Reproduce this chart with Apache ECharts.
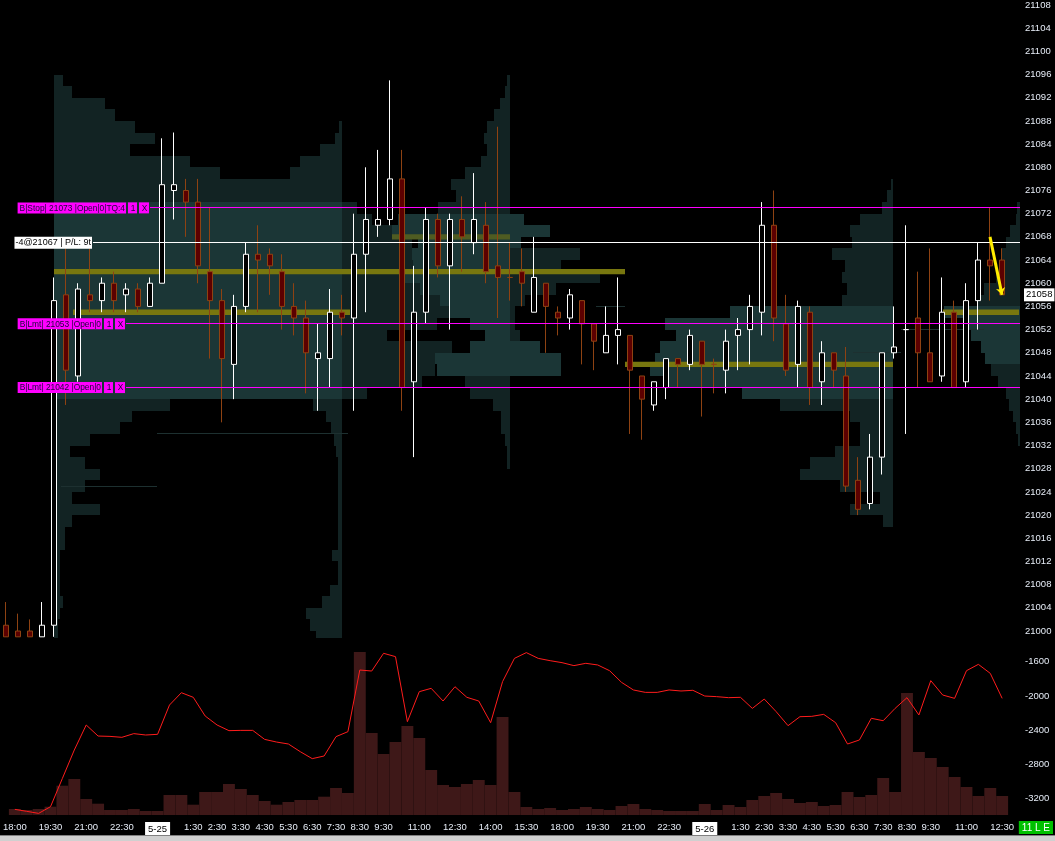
<!DOCTYPE html>
<html><head><meta charset="utf-8">
<script src="https://cdn.jsdelivr.net/npm/echarts@6/dist/echarts.min.js"></script>
<style>html,body{margin:0;padding:0;background:#000;overflow:hidden}#c{width:1055px;height:841px}</style>
</head><body><div id="c"></div>
<script>
// ---------- categories (30-minute bars) ----------
const categories = ['18:00','18:30','19:00','19:30','20:00','20:30','21:00','21:30','22:00','22:30','23:00','23:30',
 '5-25','0:30','1:00','1:30','2:00','2:30','3:00','3:30','4:00','4:30','5:00','5:30','6:00','6:30','7:00','7:30',
 '8:00','8:30','9:00','9:30','10:00','10:30','11:00','11:30','12:00','12:30','13:00','13:30','14:00','14:30','15:00','15:30','16:00','16:30',
 '18:00','18:30','19:00','19:30','20:00','20:30','21:00','21:30','22:00','22:30','23:00','23:30',
 '5-26','0:30','1:00','1:30','2:00','2:30','3:00','3:30','4:00','4:30','5:00','5:30','6:00','6:30','7:00','7:30',
 '8:00','8:30','9:00','9:30','10:00','10:30','11:00','11:30','12:00','12:30','13:00'];
const shownLabelIdx = [0,3,6,9,12,15,17,19,21,23,25,27,29,31,34,37,40,43,46,49,52,55,58,61,63,65,67,69,71,73,75,77,80,83];

// ---------- price ticks ----------
const priceTicks = [21000,21004,21008,21012,21016,21020,21024,21028,21032,21036,21040,21044,21048,21052,21056,21060,21064,21068,21072,21076,21080,21084,21088,21092,21096,21100,21104,21108];
const deltaTicks = [-3200,-2800,-2400,-2000,-1600];

// ---------- OHLC: [open, close, low, high] ----------
const ohlc = [
 [21001,20999,20999,21005],[21000,20999,20999,21003],[21000,20999,20999,21002],[20999,21001,20999,21005],
 [21001,21057,20999,21061],[21058,21045,21039,21066],[21044,21059,21043,21060],[21058,21057,21055,21066],
 [21057,21060,21055,21061],[21060,21057,21055,21062],[21058,21059,21055,21060],[21059,21056,21055,21060],
 [21056,21060,21056,21061],[21060,21077,21060,21085],[21076,21077,21071,21086],[21076,21074,21068,21078],
 [21074,21063,21060,21078],[21062,21057,21047,21073],[21057,21047,21036,21059],[21046,21056,21040,21058],
 [21056,21065,21055,21067],[21065,21064,21055,21070],[21065,21063,21058,21066],[21062,21056,21052,21065],
 [21056,21054,21051,21060],[21054,21048,21041,21057],[21047,21048,21038,21053],[21047,21055,21042,21059],
 [21055,21054,21051,21058],[21054,21065,21038,21072],[21065,21071,21055,21080],[21070,21071,21068,21083],
 [21071,21078,21070,21095],[21078,21042,21038,21083],[21043,21055,21030,21063],[21055,21071,21053,21073],
 [21071,21063,21061,21072],[21063,21071,21052,21072],[21071,21068,21062,21075],[21067,21071,21065,21079],
 [21070,21062,21060,21074],[21063,21061,21054,21087],[21061,21061,21057,21067],[21062,21060,21056,21066],
 [21055,21061,21055,21068],[21060,21056,21048,21060],[21055,21054,21051,21056],[21054,21058,21052,21059],
 [21057,21053,21046,21057],[21053,21050,21045,21053],[21048,21051,21048,21056],[21051,21052,21046,21061],
 [21051,21045,21034,21051],[21044,21040,21033,21044],[21039,21043,21038,21043],[21042,21047,21040,21047],
 [21047,21046,21042,21047],[21046,21051,21045,21052],[21050,21046,21037,21050],[21046,21046,21041,21047],
 [21045,21050,21041,21052],[21051,21052,21045,21054],[21052,21056,21046,21058],[21055,21070,21051,21074],
 [21070,21054,21050,21076],[21053,21045,21044,21058],[21046,21056,21042,21057],[21055,21042,21039,21056],
 [21043,21048,21039,21050],[21048,21045,21042,21048],[21044,21025,21024,21049],[21026,21021,21020,21030],
 [21022,21030,21021,21034],[21030,21048,21027,21048],[21048,21049,21047,21056],[21052,21052,21034,21070],
 [21054,21048,21042,21062],[21048,21043,21043,21066],[21044,21055,21043,21061],[21055,21042,21042,21057],
 [21043,21057,21042,21060],[21057,21064,21052,21067],[21064,21063,21057,21073],[21064,21058,21058,21066]
];
// doji bars that printed as down bars
const downDoji = [42, 59];

// ---------- volume per bar ----------
const volume = [600,500,600,830,2930,3600,1600,1130,500,500,600,400,400,2000,2000,1030,2300,2300,3100,2600,
 2000,1400,1030,1300,1500,1500,1830,2700,2200,16300,8200,6100,7300,8900,7700,4500,3000,2800,3100,3500,
 3000,9800,2300,800,600,700,500,600,800,600,500,900,1100,600,500,400,400,400,1100,500,
 1000,800,1500,1900,2200,1600,1200,1300,900,1000,2300,1800,2000,3700,2300,12200,6300,5700,4800,3800,
 2800,1900,2700,1900];

// ---------- cumulative delta ----------
const delta = [-3324,-3347,-3371,-3293,-2962,-2631,-2339,-2468,-2472,-2483,-2440,-2456,-2448,-2106,-1962,-2016,
 -2234,-2339,-2405,-2402,-2402,-2507,-2538,-2561,-2651,-2732,-2701,-2475,-2417,-1697,-1709,-1502,-1541,-2300,
 -1950,-1911,-2059,-1892,-2016,-2059,-2312,-1833,-1561,-1494,-1561,-1588,-1611,-1646,-1619,-1638,-1705,-1841,
 -1930,-1958,-1958,-1930,-1942,-1934,-2001,-2008,-2020,-2016,-2145,-2036,-2183,-2347,-2242,-2238,-2215,-2312,
 -2561,-2514,-2261,-2289,-2145,-2020,-2222,-1821,-1989,-2028,-1705,-1631,-1736,-2028];

// ---------- volume profiles (2-point rows, listed from the top price down) ----------
const profA_left  = [90,180,510,610,810,1010,760,1360,1660,2360,3100,3400,3900,4200,4600,4400,4800,5200,4700,4100,3800,3500,3300,3600,3000,3100,2950,3050,1160,780,660,360,160,310,460,310,180,460,180,110,110,60,60,60,60,90,60,40,40];
const profA_right = [30,70,220,420,520,620,2000,2100,2300,2500,2700,2900,3000,3100,2950,2900,3000,2950,2900,3050,3000,2950,3100,3000,290,160,110,80,60,40,40,40,40,40,40,40,40,100,40,40,120,200,360,320,260];
const profB_left  = [150,300,560,700,720,750,800,850,1000,1150,950,450,1100,930,930,800,250];
const profB_right = [30,50,100,160,230,260,230,290,450,590,540,720,1120,1180,920,980,970,1050,900,700,600,400,250,400,750,730,450,400,170,90,90,50,30,30];
const profC_left  = [140,400,110,700,510,900,460,150,50,50,100,300,510,510];
const profC_right = [20,60,110,330,430,410,610,480,510,460,510,1630,2280,2170,2330,2380,2430,2250,1510,1130,430,330,330,580,830,930,530,130,430,100];
const profD_right = [30,40,100,140,190,190,240,360,420,760,520,490,390,350,290,220,140,110,70,40,20];

// POC lines: [price, fromBar, toBar]
const pocBright = [[21062,4,51.6],[21055,5.6,28.7],[21046,51.6,73.9],[21055,78.1,84.4]];
const pocDim    = [[21068,32.2,42]];
// faint naked levels: [price, fromBar, toBar]
const nakedLevels = [[21034,12.6,28.5],[21025,4.6,12.6],[21052,74.6,81.5],[21048,70.6,74.6],[21056,49.2,51.6]];

// orders / position: [price, fromBar, toBar]
const stopPrice = 21073, lmtPrices = [21053, 21042], posPrice = 21067, lastPrice = 21058;
const magentaOrders = [[stopPrice, 12, 84.5], [lmtPrices[0], 10, 84.5], [lmtPrices[1], 10, 84.5]];
const positionLine = [[posPrice, 7.25, 84.5]];

const VOL_PER_BAR = 120;
const DARK = '#122323', LIT = '#1b3636';

function profileSeries(name, topPrice, vols, anchor, dir, va, clipLo, clipHi) {
  return {
    type: 'custom', name: name, xAxisIndex: 0, yAxisIndex: 0, z: 1, silent: true, clip: true,
    encode: { x: 0, y: 1 },
    data: vols.map((v, i) => [0, topPrice - 2 * i, v]),
    renderItem: function (params, api) {
      const price = api.value(1), vol = api.value(2);
      const top = api.coord([0, price + 2]);
      const bot = api.coord([0, price]);
      const band = api.size([1, 0])[0];
      const ax = top[0] + anchor * band;
      const len = vol / VOL_PER_BAR * band;
      let x0 = dir > 0 ? ax : ax - len;
      let x1 = dir > 0 ? ax + len : ax;
      if (clipLo != null) { x0 = Math.max(x0, top[0] + clipLo * band); x1 = Math.min(x1, top[0] + clipHi * band); }
      if (x1 <= x0) return null;
      const lit = va.some(r => price >= r[0] && price < r[1]);
      return { type: 'rect', shape: { x: Math.round(x0), y: Math.round(top[1]), width: Math.round(x1 - x0), height: Math.round(bot[1]) - Math.round(top[1]) },
               style: { fill: lit ? LIT : DARK } };
    }
  };
}

function bandSeries(rows, color, halfHeight, z) {
  return {
    type: 'custom', xAxisIndex: 0, yAxisIndex: 0, z: z, silent: true, clip: true,
    encode: { x: 0, y: 1 },
    data: rows.map(r => [0, r[0], r[1], r[2]]),
    renderItem: function (params, api) {
      const p = api.value(1);
      const c = api.coord([0, p]);
      const band = api.size([1, 0])[0];
      const x0 = c[0] + api.value(2) * band, x1 = c[0] + api.value(3) * band;
      let y0, h;
      if (halfHeight == null) { y0 = Math.floor(c[1]); h = 1; }
      else {
        const a = api.coord([0, p + halfHeight]), b = api.coord([0, p - halfHeight]);
        y0 = a[1]; h = b[1] - a[1];
      }
      return { type: 'rect', shape: { x: Math.round(x0), y: y0, width: Math.round(x1 - x0), height: h }, style: { fill: color, opacity: 1 } };
    }
  };
}

const FONT = 'Liberation Sans';
const magentaBox = { backgroundColor: '#ff00ff', color: '#1a0838', fontSize: 8.4, fontFamily: FONT, padding: [2, 1, 1, 2], lineHeight: 10 };
function orderLabel(text) {
  return {
    show: true, position: 'start', distance: 1,
    formatter: function () { return '{t1|' + text + '}{gp|}{t2|1}{gp|}{t3|X}'; },
    rich: {
      t1: magentaBox,
      gp: { width: 2 },
      t2: Object.assign({}, magentaBox, { width: 6, align: 'center' }),
      t3: Object.assign({}, magentaBox, { width: 7, align: 'center' })
    }
  };
}
const plain = function (v) { return String(v); };

const candleData = ohlc.map((d, i) => downDoji.indexOf(i) >= 0 ? { value: d, itemStyle: { borderColor: '#8e4212' } } : d);

const chart = echarts.init(document.getElementById('c'), null, { renderer: 'canvas' });
const option = {
  backgroundColor: '#000',
  animation: false,
  grid: [
    { left: 0, right: 35, top: 1, height: 637 },
    { left: 0, right: 35, top: 645, height: 170 }
  ],
  xAxis: [
    { type: 'category', gridIndex: 0, data: categories, show: false, boundaryGap: true },
    { type: 'category', gridIndex: 1, data: categories, boundaryGap: true,
      axisLine: { show: false }, axisTick: { show: false },
      axisLabel: {
        interval: function (i) { return shownLabelIdx.indexOf(i) >= 0; },
        color: '#e6ecf6', fontSize: 9.5, fontFamily: FONT, margin: 7,
        formatter: function (v) { return v.indexOf('-') > 0 ? '{d|' + v + '}' : v; },
        rich: { d: { backgroundColor: '#ffffff', color: '#000000', fontSize: 9.5, fontFamily: FONT, padding: [2, 3, 1, 3] } }
      } }
  ],
  yAxis: [
    { type: 'value', gridIndex: 0, position: 'right', min: 20998.797, max: 21108.258,
      splitLine: { show: false }, axisLine: { show: false }, axisTick: { show: false },
      axisLabel: { customValues: priceTicks, formatter: plain, color: '#e6ecf6', fontSize: 9.5, fontFamily: FONT, margin: 5, align: 'left' } },
    { type: 'value', gridIndex: 1, position: 'right', min: -3390, max: -1405,
      splitLine: { show: false }, axisLine: { show: false }, axisTick: { show: false },
      axisLabel: { customValues: deltaTicks, formatter: plain, color: '#e6ecf6', fontSize: 9.5, fontFamily: FONT, margin: 5, align: 'left' } },
    { type: 'value', gridIndex: 1, min: 0, max: 17000, show: false }
  ],
  series: [
    profileSeries('A_R', 21086, profA_right, 28, -1, [[21040, 21074]], 4, 28),
    profileSeries('A_L', 21094, profA_left, 4, 1, [[21040, 21074]], 4, 28),
    profileSeries('B_L', 21072, profB_left, 28, 1, []),
    profileSeries('B_R', 21094, profB_right, 42, -1, [[21044, 21072]]),
    profileSeries('C_L', 21070, profC_left, 42, 1, [[21066, 21072], [21044, 21050]]),
    profileSeries('C_R', 21076, profC_right, 73.9, -1, [[21040, 21056]]),
    profileSeries('D_R', 21072, profD_right, 84.5, -1, [[21046, 21056]]),
    bandSeries(nakedLevels, '#1d3030', null, 2),
    bandSeries(pocBright, '#78770f', 0.47, 2),
    bandSeries(pocDim, '#4f5c22', 0.47, 2),
    {
      type: 'candlestick', name: 'price', xAxisIndex: 0, yAxisIndex: 0, z: 5, clip: true,
      data: candleData, barWidth: 6,
      itemStyle: { color: '#000000', color0: '#5c0000', borderColor: '#ffffff', borderColor0: '#8e4212', borderWidth: 1 }
    },
    bandSeries(magentaOrders, '#ff00ff', null, 8),
    bandSeries(positionLine, '#ffffff', null, 8),
    {
      type: 'line', name: 'orderLabels', xAxisIndex: 0, yAxisIndex: 0, z: 20, data: [], silent: true,
      markLine: {
        z: 30, silent: true, symbol: 'none', animation: false,
        lineStyle: { color: 'rgba(0,0,0,0)', width: 1, type: 'solid' },
        data: [
          [{ coord: [12, stopPrice], label: orderLabel('B|Stop| ' + stopPrice + ' |Open|0|TQ:4') }, { coord: [84, stopPrice] }],
          [{ coord: [10, lmtPrices[0]], label: orderLabel('B|Lmt| ' + lmtPrices[0] + ' |Open|0') }, { coord: [84, lmtPrices[0]] }],
          [{ coord: [10, lmtPrices[1]], label: orderLabel('B|Lmt| ' + lmtPrices[1] + ' |Open|0') }, { coord: [84, lmtPrices[1]] }],
          [{ coord: [7, posPrice],
             label: { show: true, position: 'start', distance: -2, formatter: function () { return '-4@' + posPrice + ' | P/L: 9t'; },
                      backgroundColor: '#ffffff', color: '#000000', fontSize: 9, fontFamily: FONT, padding: [2, 1, 1, 1] } },
           { coord: [84, posPrice] }],
          { yAxis: lastPrice,
            label: { show: true, position: 'end', distance: 4, formatter: function () { return String(lastPrice); },
                     backgroundColor: '#ffffff', color: '#000000', fontSize: 9.5, fontFamily: FONT, padding: [2, 2, 1, 2] } }
        ]
      }
    },
    {
      type: 'line', name: 'drawing', xAxisIndex: 0, yAxisIndex: 0, z: 20, data: [], silent: true,
      markLine: {
        z: 30, silent: true, animation: false, symbol: ['none', 'arrow'], symbolSize: 7,
        lineStyle: { color: '#ffee00', width: 3, type: 'solid' },
        label: { show: false },
        data: [[{ coord: [82, 21068] }, { coord: [83, 21058] }]]
      }
    },
    {
      type: 'bar', name: 'volume', xAxisIndex: 1, yAxisIndex: 2, data: volume, barWidth: '100%', barGap: '0%',
      itemStyle: { color: '#3e1818' }, silent: true, z: 1
    },
    {
      type: 'line', name: 'delta', xAxisIndex: 1, yAxisIndex: 1, data: delta, symbol: 'none', silent: true, z: 3,
      lineStyle: { color: '#ff1c1c', width: 1 }
    }
  ],
  graphic: [
    { type: 'rect', left: 0, bottom: 0, shape: { width: 1055, height: 6 }, style: { fill: '#d0d0d0' }, silent: true },
    { type: 'rect', left: 0, bottom: 5, shape: { width: 1055, height: 1 }, style: { fill: '#808080' }, silent: true },
    { type: 'text', right: 2, bottom: 7, silent: true,
      style: { text: '11 L E', fill: '#ffffff', backgroundColor: '#00c000', padding: [2, 3, 1, 3], font: '10px "Liberation Sans"' } }
  ]
};
chart.setOption(option);
</script>
</body></html>
